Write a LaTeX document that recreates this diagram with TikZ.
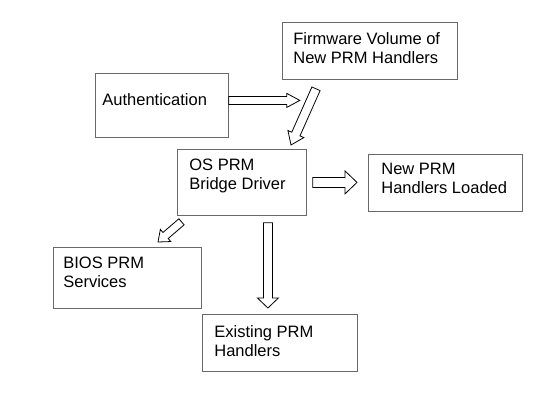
\documentclass[tikz,border=0pt]{standalone}
\usepackage{fontspec}
\setmainfont{Liberation Sans}
\usetikzlibrary{calc}
\definecolor{boxgray}{RGB}{105,105,105}

\begin{document}
\begin{tikzpicture}[x=1pt,y=-1pt,
  box/.style={draw=boxgray, line width=0.8pt, anchor=north west,
    font=\fontsize{16.5}{19}\selectfont},
  blockarrow/.style={draw=black, line width=0.8pt, fill=white, line join=miter}]
  \useasboundingbox (0,0) rectangle (555,402);

  % boxes, text set at their top left
  \node[box, inner xsep=11pt, inner ysep=10pt] (fw) at (282,22)
    {\parbox[t][37pt][t]{153pt}{Firmware Volume of\\New PRM Handlers}};
  \node[box, inner xsep=7pt, inner ysep=20.5pt] (auth) at (95,73)
    {\parbox[t][23pt][t]{119pt}{Authentication}};
  \node[box, inner xsep=12pt, inner ysep=9.5pt] (os) at (177,149)
    {\parbox[t][47pt][t]{105pt}{OS PRM\\Bridge Driver}};
  \node[box, inner xsep=13pt, inner ysep=9pt] (new) at (368,154)
    {\parbox[t][39pt][t]{128pt}{New PRM\\Handlers Loaded}};
  \node[box, inner xsep=10pt, inner ysep=10pt] (bios) at (53,247)
    {\parbox[t][41pt][t]{128pt}{BIOS PRM\\Services}};
  \node[box, inner xsep=12pt, inner ysep=11pt] (exist) at (202,314)
    {\parbox[t][35pt][t]{131pt}{Existing PRM\\Handlers}};

  % ends of the hollow arrows
  \coordinate (authtail) at ([yshift=5pt]auth.east);
  \coordinate (authtip) at ([xshift=71pt]authtail);
  \coordinate (fwtail) at ([xshift=34pt,yshift=-9pt]fw.south west);
  \coordinate (fwtip) at ([xshift=114pt,yshift=4pt]os.north west);
  \coordinate (newtail) at ([xshift=6pt]os.east);
  \coordinate (newtip) at ($(newtail -| new.west)+(-11,0)$);
  \coordinate (existtail) at ([xshift=26pt,yshift=-7pt]os.south);
  \coordinate (existtip) at ($(existtail |- exist.north)+(0,-6)$);
  \coordinate (biostail) at ([xshift=4.5pt,yshift=-6pt]os.south west);
  \coordinate (biostip) at ([xshift=105pt,yshift=5pt]bios.north west);

  % tail/tip/shaft half width/head half width/head length
  \foreach \a/\b/\s/\h/\l in {authtail/authtip/4pt/7pt/13pt,
      fwtail/fwtip/4.5pt/8.7pt/12pt, newtail/newtip/5pt/11.5pt/12pt,
      existtail/existtip/4.5pt/10.5pt/10pt, biostail/biostip/4pt/8pt/10pt} {
    \coordinate (hb) at ($(\b)!\l!(\a)$);
    \draw[blockarrow] ($(\a)!\s!90:(\b)$) -- ($(hb)!\s!90:(\b)$)
      -- ($(hb)!\h!90:(\b)$) -- (\b) -- ($(hb)!\h!-90:(\b)$)
      -- ($(hb)!\s!-90:(\b)$) -- ($(\a)!\s!-90:(\b)$) -- cycle;
  }
\end{tikzpicture}
\end{document}
